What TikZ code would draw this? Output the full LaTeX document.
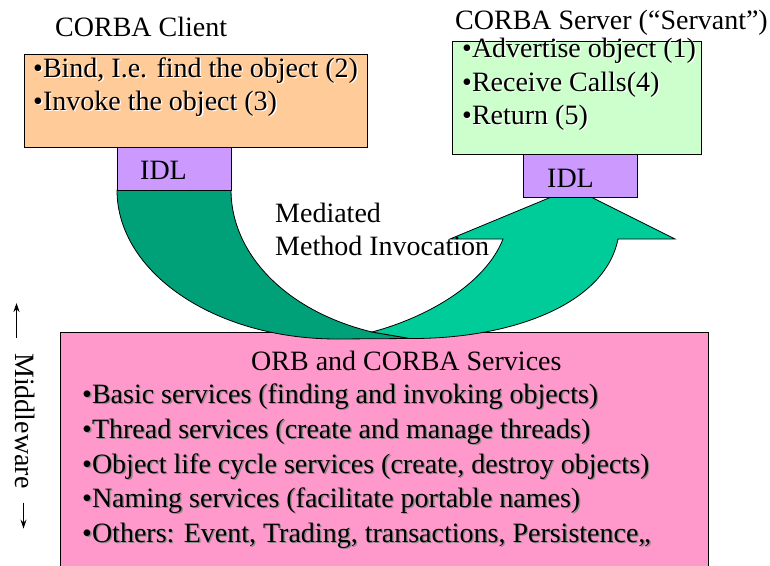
\documentclass[tikz,border=0pt]{standalone}
\usepackage{fontspec}
\setmainfont{Liberation Serif}
\usetikzlibrary{arrows.meta}

\definecolor{clientfill}{HTML}{FFCC99}
\definecolor{serverfill}{HTML}{CCFFCC}
\definecolor{idlfill}{HTML}{CC99FF}
\definecolor{orbfill}{HTML}{FF99CC}
\definecolor{flowdark}{HTML}{00A078}
\definecolor{flowlight}{HTML}{00CC99}
\definecolor{shadegray}{HTML}{8C8C8C}

% text with a small offset shadow behind it
\newcommand\shadowed[2]{\makebox[0pt][l]{\hspace{1.3pt}\raisebox{-1.3pt}{\textcolor{#1}{#2}}}#2}

\tikzset{
  panel/.style={draw=black, line width=0.8pt, anchor=north west, inner sep=0pt},
  txt/.style={anchor=base west, inner sep=0pt, font=\fontsize{28}{33.6}\selectfont},
  band/.style={draw=black, line width=0.8pt, line join=miter},
  sidearrow/.style={line width=1pt, -{Stealth[length=9pt,width=6pt]}},
}

\begin{document}
\begin{tikzpicture}[x=1pt,y=-1pt]
\useasboundingbox (0,0) rectangle (770,565);

% middleware layer
\node[panel, fill=orbfill, minimum width=648pt, minimum height=240pt] (orb) at (60,332) {};

% mediated invocation: tail band going down from the client stub
\path[band, fill=flowdark]
  (117,190) .. controls (117,272.3) and (214.4,339) .. (337,339)
  -- (410,338.5) -- (372,332)
  .. controls (284.3,310.6) and (231,252.6) .. (231,190) -- cycle;

% rising band with the head under the server stub
\path[band, fill=flowlight]
  (372,332) -- (410,338.5)
  .. controls (510,339) and (605,305) .. (618,239)
  -- (675,239) -- (573,188) -- (450,239) -- (503,239)
  .. controls (485,285) and (425,318) .. (372,332) -- cycle;

% client side
\node[panel, fill=clientfill, minimum width=343pt, minimum height=93pt] (client) at (24,54) {};
\node[panel, fill=idlfill, minimum width=114pt, minimum height=43pt] (cidl) at (117,147) {};

% server side
\node[panel, fill=serverfill, minimum width=249pt, minimum height=113pt] (server) at (452,41) {};
\node[panel, fill=idlfill, minimum width=114pt, minimum height=43pt] (sidl) at (523,154) {};

% titles and labels
\node[txt] (clienttitle) at (55,36) {CORBA Client};
\node[txt] (c1) at (33,77) {\shadowed{white}{•Bind, I.e. find the object (2)}};
\node[txt] (c2) at (33,110) {\shadowed{white}{•Invoke the object (3)}};
\node[txt] (cidltext) at (140,179) {IDL};

\node[txt] (servertitle) at (455,29) {CORBA Server (“Servant”)};
\node[txt] (s1) at (462,57) {\shadowed{white}{•Advertise object (1)}};
\node[txt] (s2) at (462,91) {\shadowed{white}{•Receive Calls(4)}};
\node[txt] (s3) at (462,124) {\shadowed{white}{•Return (5)}};
\node[txt] (sidltext) at (547,187) {IDL};

\node[txt] (med1) at (275,222) {Mediated};
\node[txt] (med2) at (275,255) {Method Invocation};

\node[txt] (orbtitle) at (251,370) {ORB and CORBA Services};
\node[txt] (o1) at (82,403) {\shadowed{shadegray}{•Basic services (finding and invoking objects)}};
\node[txt] (o2) at (82,438) {\shadowed{shadegray}{•Thread services (create and manage threads)}};
\node[txt] (o3) at (82,473) {\shadowed{shadegray}{•Object life cycle services (create, destroy objects)}};
\node[txt] (o4) at (82,507) {\shadowed{shadegray}{•Naming services (facilitate portable names)}};
\node[txt] (o5) at (82,542) {\shadowed{shadegray}{•Others: Event, Trading, transactions, Persistence,,}};

% vertical side label
\node[txt, rotate=-90] (mw) at (15.5,353) {Middleware};
\draw[sidearrow] ([shift={(1,-15)}]mw.base west) -- ++(0,-35);
\draw[sidearrow] ([shift={(8,14)}]mw.base east) -- ++(0,26);
\end{tikzpicture}
\end{document}
